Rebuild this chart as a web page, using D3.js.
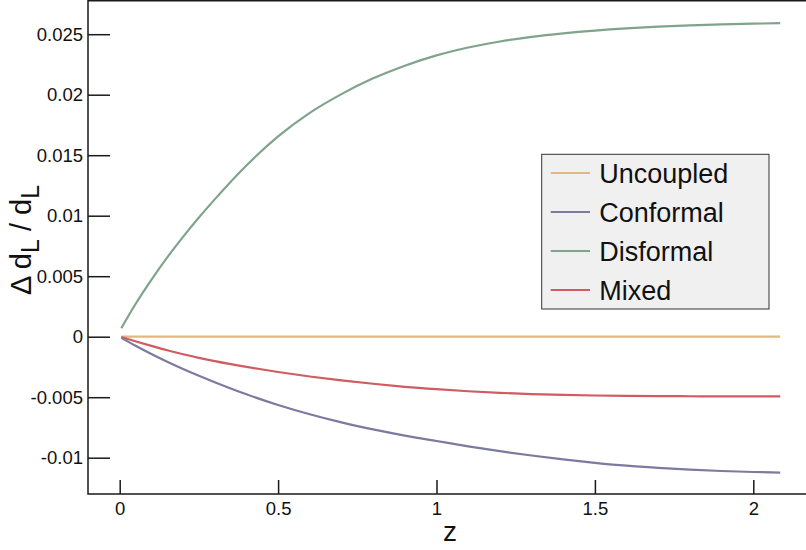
<!DOCTYPE html>
<html>
<head>
<meta charset="utf-8">
<script src="https://cdn.jsdelivr.net/npm/d3@7"></script>
<style>
  html, body { margin: 0; padding: 0; background: #fff; }
  svg { display: block; font-family: "Liberation Sans", Arial, sans-serif; }
</style>
</head>
<body>
<svg id="chart" width="806" height="550"></svg>
<script>
const zValues = [0.005, 0.05, 0.1, 0.15, 0.2, 0.25, 0.3, 0.4, 0.5, 0.6, 0.7, 0.8, 0.9, 1.0, 1.1, 1.2, 1.3, 1.4, 1.5, 1.6, 1.7, 1.8, 1.9, 2.0, 2.085];
const uncoupled = [0, 0, 0, 0, 0, 0, 0, 0, 0, 0, 0, 0, 0, 0, 0, 0, 0, 0, 0, 0, 0, 0, 0, 0, 0];
const conformal = [-0.00010, -0.00075, -0.00143, -0.00207, -0.00267, -0.00323, -0.00376, -0.00476, -0.00564, -0.00641, -0.00708, -0.00766, -0.00817, -0.00862, -0.00906, -0.00946, -0.00982, -0.01014, -0.01042, -0.01066, -0.01084, -0.01099, -0.01110, -0.01118, -0.01123];
const disformal = [0.00070, 0.00270, 0.00470, 0.00655, 0.00825, 0.00985, 0.01135, 0.01415, 0.01655, 0.01850, 0.02005, 0.02135, 0.02240, 0.02325, 0.02390, 0.02440, 0.02478, 0.02507, 0.02530, 0.02548, 0.02562, 0.02573, 0.02581, 0.02587, 0.02591];
const mixed = [-0.00003, -0.00038, -0.00076, -0.00112, -0.00145, -0.00175, -0.00202, -0.00250, -0.00292, -0.00329, -0.00361, -0.00389, -0.00414, -0.00434, -0.00451, -0.00464, -0.00474, -0.00481, -0.00486, -0.00489, -0.00491, -0.00492, -0.00493, -0.00493, -0.00493];
const seriesNames = ["Uncoupled", "Conformal", "Disformal", "Mixed"];
const seriesColors = ["#e2b882", "#7c7a9f", "#7fa38b", "#d05b60"];
const xTicks = [0, 0.5, 1, 1.5, 2];
const xTickLabels = ["0", "0.5", "1", "1.5", "2"];
const yTicks = [-0.01, -0.005, 0, 0.005, 0.01, 0.015, 0.02, 0.025];
const yTickLabels = ["-0.01", "-0.005", "0", "0.005", "0.01", "0.015", "0.02", "0.025"];

const seriesValues = [uncoupled, conformal, disformal, mixed];

const svg = d3.select("#chart");
const plotLeft = 88, plotRight = 812, plotTop = 0.75, plotBottom = 494;

const x = d3.scaleLinear().domain([0, 2]).range([119.7, 753.3]);
const y = d3.scaleLinear().domain([0, 0.025]).range([336.7, 34.2]);

// frame
svg.append("rect")
  .attr("x", plotLeft).attr("y", plotTop)
  .attr("width", plotRight - plotLeft).attr("height", plotBottom - plotTop)
  .attr("fill", "none").attr("stroke", "#1a1a1a").attr("stroke-width", 1.5);

// y axis ticks (inward)
const yAxis = d3.axisRight(y).tickValues(yTicks).tickSize(22)
  .tickFormat((d, i) => yTickLabels[i]);
const gy = svg.append("g").attr("transform", `translate(${plotLeft},0)`).call(yAxis);
gy.select(".domain").remove();
gy.selectAll(".tick line").attr("stroke", "#1a1a1a").attr("stroke-width", 1.5);
gy.selectAll(".tick text")
  .attr("x", -5).attr("text-anchor", "end")
  .attr("font-size", 18.5).attr("fill", "#111")
  .attr("font-family", "Liberation Sans, Arial, sans-serif");

// x axis ticks (inward, upward)
const xAxis = d3.axisTop(x).tickValues(xTicks).tickSize(14)
  .tickFormat((d, i) => xTickLabels[i]);
const gx = svg.append("g").attr("transform", `translate(0,${plotBottom})`).call(xAxis);
gx.select(".domain").remove();
gx.selectAll(".tick line").attr("stroke", "#1a1a1a").attr("stroke-width", 1.5);
gx.selectAll(".tick text")
  .attr("y", 21).attr("dy", 0)
  .attr("font-size", 18.5).attr("fill", "#111")
  .attr("font-family", "Liberation Sans, Arial, sans-serif");

// lines
const line = d3.line().x(d => x(d[0])).y(d => y(d[1])).curve(d3.curveMonotoneX);
const order = [2, 0, 3, 1];
order.forEach(i => {
  const pts = zValues.map((z, k) => [z, seriesValues[i][k]]);
  svg.append("path").datum(pts)
    .attr("d", line)
    .attr("fill", "none")
    .attr("stroke", seriesColors[i])
    .attr("stroke-width", 2.2);
});

// axis labels
svg.append("text")
  .attr("x", 450).attr("y", 541)
  .attr("text-anchor", "middle")
  .attr("font-size", 28).attr("fill", "#111")
  .text("z");

const yl = svg.append("text")
  .attr("transform", "translate(31,240) rotate(-90)")
  .attr("text-anchor", "middle")
  .attr("font-size", 29).attr("fill", "#111");
yl.append("tspan").text("Δ d");
yl.append("tspan").attr("font-size", 25).attr("dy", 8).text("L");
yl.append("tspan").attr("dy", -8).text(" / d");
yl.append("tspan").attr("font-size", 25).attr("dy", 8).text("L");

// legend
const lg = svg.append("g");
lg.append("rect")
  .attr("x", 541.7).attr("y", 154.3)
  .attr("width", 227.3).attr("height", 154.7)
  .attr("fill", "#f0f0f0").attr("stroke", "#333").attr("stroke-width", 1);
const rowY = d3.scaleLinear().domain([0, 3]).range([173, 290]);
seriesNames.forEach((name, i) => {
  lg.append("line")
    .attr("x1", 550.7).attr("x2", 590)
    .attr("y1", rowY(i)).attr("y2", rowY(i))
    .attr("stroke", seriesColors[i]).attr("stroke-width", 2);
  lg.append("text")
    .attr("x", 599.3).attr("y", rowY(i))
    .attr("dy", "0.36em")
    .attr("font-size", 27).attr("fill", "#111")
    .text(name);
});
</script>
</body>
</html>
